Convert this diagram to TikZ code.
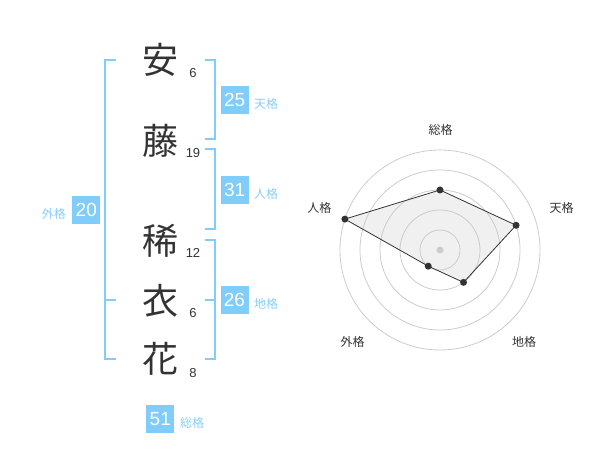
\documentclass[tikz,border=0pt]{standalone}
\usepackage{fontspec}
\setmainfont{Liberation Sans}
\newfontfamily\jp{Noto Sans CJK JP}
\definecolor{kblue}{HTML}{80CCFB}
\definecolor{klabel}{HTML}{88CEF8}
\definecolor{ktext}{HTML}{333333}
\definecolor{kgrid}{HTML}{CCCCCC}
\begin{document}
\begin{tikzpicture}[x=1pt,y=-1pt,
  kanji/.style={font=\jp\fontsize{36}{36}\selectfont, text=ktext, inner sep=0pt},
  stroke/.style={font=\fontsize{13}{13}\selectfont, text=ktext, inner sep=0pt},
  brk/.style={draw=kblue, line width=2pt},
  numbox/.style={fill=kblue, text=white, minimum width=28pt, minimum height=28pt, inner sep=0pt, font=\fontsize{19}{19}\selectfont},
  klab/.style={text=klabel, font=\jp\fontsize{12}{12}\selectfont, inner sep=0pt},
  rlab/.style={text=ktext, font=\jp\fontsize{12}{12}\selectfont, inner sep=0pt},
  dot/.style={circle, fill=ktext, inner sep=0pt, minimum size=7pt}]
\useasboundingbox (0,0) rectangle (600,470);
% kanji
\node[kanji] (k1) at (160,60) {安};
\node[kanji] (k2) at (160,141) {藤};
\node[kanji] (k3) at (160,241) {稀};
\node[kanji] (k4) at (160,301) {衣};
\node[kanji] (k5) at (160,359) {花};
% stroke counts
\node[stroke] (s1) at (193,73) {6};
\node[stroke] (s2) at (193,153) {19};
\node[stroke] (s3) at (193,253) {12};
\node[stroke] (s4) at (193,313) {6};
\node[stroke] (s5) at (193,373) {8};
% brackets
\coordinate (lt) at (116,60); \coordinate (lb) at (116,359);
\draw[brk] (lt) -- (105,60) -- (105,359) -- (lb);
\coordinate (lm) at (116,300);
\draw[brk] (105,300) -- (lm);
\draw[brk] (205,60) -- (215,60) -- (215,139) -- (205,139);
\draw[brk] (205,149) -- (215,149) -- (215,229) -- (205,229);
\draw[brk] (205,240) -- (215,240) -- (215,359) -- (205,359);
\draw[brk] (205,300) -- (215,300);
% boxes
\node[numbox] (b25) at (234.7,100.3) {25};
\node[klab, anchor=west] (l25) at (254,104) {天格};
\node[numbox] (b31) at (234.7,190.3) {31};
\node[klab, anchor=west] (l31) at (254,194) {人格};
\node[numbox] (b26) at (234.5,300.3) {26};
\node[klab, anchor=west] (l26) at (254,304) {地格};
\node[numbox] (b20) at (86.3,210.3) {20};
\node[klab, anchor=east] (l20) at (66,214) {外格};
\node[numbox] (b51) at (160.3,419.3) {51};
\node[klab, anchor=west] (l51) at (180,423) {総格};
% radar
\begin{scope}[shift={(440,250)}]
  \coordinate (p1) at (-90:60);
  \coordinate (p2) at (-18:80);
  \coordinate (p3) at (54:40);
  \coordinate (p4) at (126:20);
  \coordinate (p5) at (198:100);
  \fill[black!6] (p1) -- (p2) -- (p3) -- (p4) -- (p5) -- cycle;
  \foreach \r in {20,40,60,80,100} \draw[kgrid, line width=0.8pt] (0,0) circle (\r);
  \fill[kgrid] (0,0) circle (3.5);
  \draw[ktext, line width=0.8pt] (p1) -- (p2) -- (p3) -- (p4) -- (p5) -- cycle;
  \foreach \p in {p1,p2,p3,p4,p5} \node[dot] at (\p) {};
\end{scope}
\node[rlab] (r1) at (440.7,130) {総格};
\node[rlab] (r2) at (561.7,208.3) {天格};
\node[rlab] (r3) at (524,341.7) {地格};
\node[rlab] (r4) at (352.7,341.7) {外格};
\node[rlab] (r5) at (319.3,208.3) {人格};
\end{tikzpicture}
\end{document}
